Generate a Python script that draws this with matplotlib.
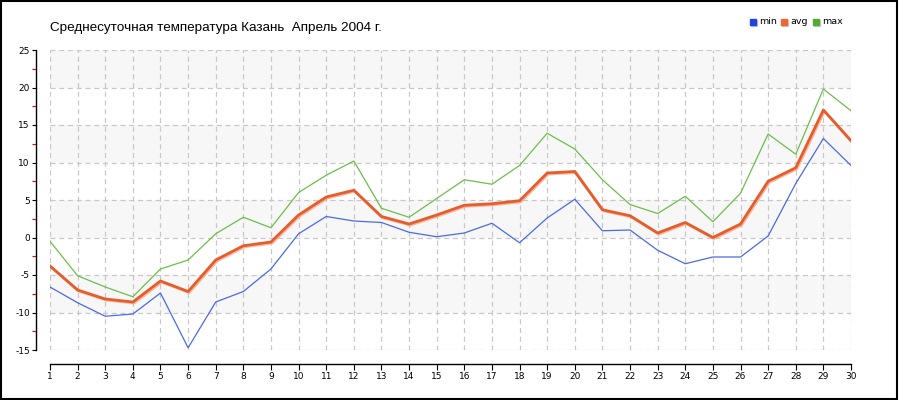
import matplotlib
matplotlib.use("Agg")
import matplotlib.pyplot as plt
import matplotlib.patches as mpatches
import matplotlib.patheffects as pe
from matplotlib.ticker import MultipleLocator

plt.rcParams["axes.unicode_minus"] = False

days = list(range(1, 31))
t_min = [-6.6, -8.7, -10.5, -10.2, -7.4, -14.7, -8.6, -7.2, -4.2, 0.5,
         2.8, 2.2, 2.0, 0.7, 0.1, 0.6, 1.9, -0.7, 2.6, 5.1,
         0.9, 1.0, -1.7, -3.5, -2.6, -2.6, 0.2, 7.2, 13.2, 9.6]
t_avg = [-3.8, -7.0, -8.2, -8.6, -5.8, -7.2, -3.0, -1.1, -0.6, 3.0,
         5.4, 6.3, 2.8, 1.8, 3.0, 4.3, 4.5, 4.9, 8.6, 8.8,
         3.7, 2.9, 0.6, 2.0, 0.0, 1.8, 7.5, 9.3, 17.0, 12.9]
t_max = [-0.5, -5.1, -6.6, -7.9, -4.2, -3.0, 0.5, 2.7, 1.3, 6.0,
         8.3, 10.2, 3.9, 2.7, 5.2, 7.7, 7.1, 9.6, 13.9, 11.8,
         7.7, 4.4, 3.2, 5.5, 2.1, 5.9, 13.8, 11.1, 19.8, 16.9]
title = "Среднесуточная температура Казань  Апрель 2004 г."
series_names = ["min", "avg", "max"]

W, H = 900, 400
fig = plt.figure(figsize=(W / 100, H / 100), dpi=100)
ax = fig.add_axes([50 / W, 50 / H, 801 / W, 300 / H])
ax.set_xlim(1, 30)
ax.set_ylim(-15, 25)

# alternating bands
for lo in range(-10, 25, 10):
    ax.axhspan(lo, lo + 5, color="#f7f7f7", zorder=0, lw=0)

ax.set_xticks(days)
ax.yaxis.set_major_locator(MultipleLocator(5))
ax.yaxis.set_minor_locator(MultipleLocator(2.5))
ax.grid(True, which="major", color="#c8c8c8", linestyle=(0, (4, 3)), linewidth=0.9, zorder=1)
ax.set_axisbelow(True)

ax.plot(days, t_min, color="#4a6ae8", lw=0.9, zorder=3)
ax.plot(days, t_max, color="#6cbf4a", lw=0.9, zorder=3)
ax.plot(days, t_avg, color="#e65c2a", lw=2.0, zorder=4,
        path_effects=[pe.SimpleLineShadow(offset=(0.8, -0.8), shadow_color="#f2a98a", alpha=0.8, rho=1),
                      pe.Normal()])

for s in ["top", "right"]:
    ax.spines[s].set_visible(False)
ax.spines["left"].set_position(("outward", 10))
ax.spines["bottom"].set_position(("outward", 10))
ax.spines["left"].set_linewidth(1.0)
ax.spines["bottom"].set_linewidth(1.0)
ax.tick_params(axis="y", which="major", direction="out", length=3, width=0.8, labelsize=6.5, pad=1.5)
ax.tick_params(axis="y", which="minor", direction="out", length=3, width=0.8, color="red")
ax.tick_params(axis="x", which="major", direction="out", length=4, width=0.8, labelsize=6.5, pad=1.5)

fig.text(50 / W, 1 - 28 / H, title, fontsize=9.7, family="Liberation Sans", va="center", ha="left")

# legend
leg_colors = ["#2244dd", "#ee6633", "#55aa33"]
leg_x = [750, 781, 813]
for name, c, x in zip(series_names, leg_colors, leg_x):
    fig.patches.append(mpatches.Rectangle(((x + 1) / W, 1 - 26 / H), 6 / W, 6 / H,
                                          transform=fig.transFigure, color="#cccccc", zorder=5))
    fig.patches.append(mpatches.Rectangle((x / W, 1 - 25 / H), 6 / W, 6 / H,
                                          transform=fig.transFigure, color=c, zorder=6))
    fig.text((x + 9) / W, 1 - 22 / H, name, fontsize=6.8, va="center", ha="left")

# outer frame
fig.patches.append(mpatches.Rectangle((0.5 / W, 1.5 / H), 896.5 / W, 397.5 / H,
                                      transform=fig.transFigure, fill=False,
                                      edgecolor="black", lw=1.5, zorder=10))

fig.savefig("out.png", dpi=100)
